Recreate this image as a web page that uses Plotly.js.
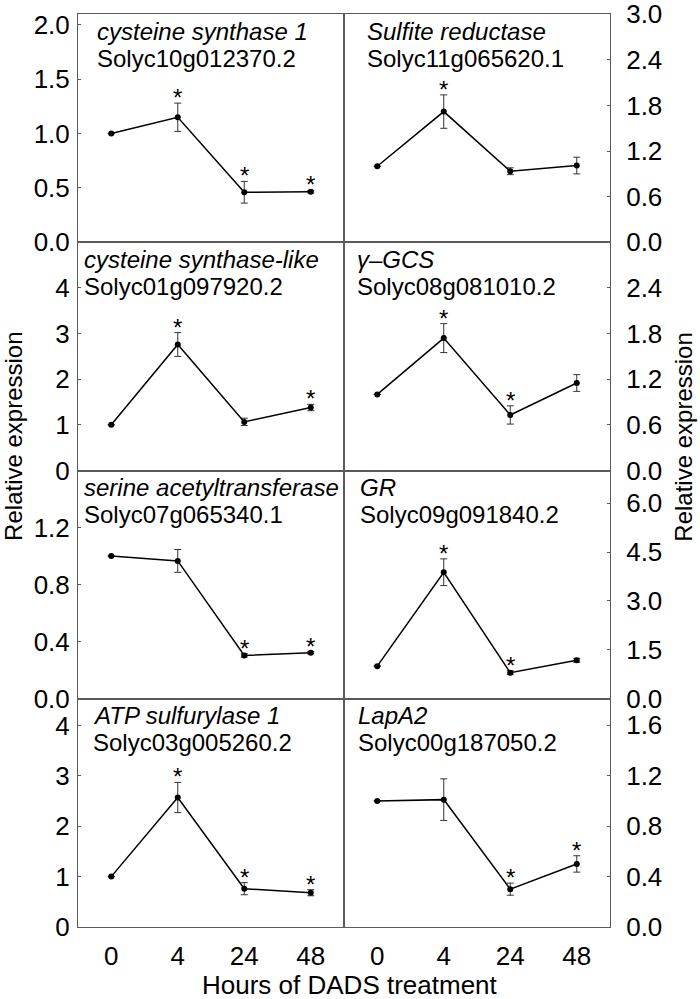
<!DOCTYPE html>
<html>
<head>
<meta charset="utf-8">
<script src="https://cdn.plot.ly/plotly-3.0.1.min.js"></script>
<style>
  html, body { margin: 0; padding: 0; background: #fff; }
  #chart { width: 700px; height: 999px; }
</style>
</head>
<body>
<div id="chart"></div>
<script>
// hours of DADS treatment
const hours = ['0', '4', '24', '48'];

// cysteine synthase 1
const cs1Mean = [1.0, 1.15, 0.46, 0.465];
const cs1Err = [null, 0.13, 0.10, 0.012];
const cs1Sig = [false, true, true, true];

// Sulfite reductase
const sirMean = [1.0, 1.72, 0.935, 1.01];
const sirErr = [null, 0.22, 0.045, 0.11];
const sirSig = [false, true, false, false];

// cysteine synthase-like
const cslMean = [1.0, 2.76, 1.065, 1.38];
const cslErr = [null, 0.26, 0.08, 0.07];
const cslSig = [false, true, false, true];

// gamma-GCS
const gcsMean = [1.0, 1.74, 0.73, 1.15];
const gcsErr = [null, 0.19, 0.12, 0.11];
const gcsSig = [false, true, true, false];

// serine acetyltransferase
const satMean = [1.0, 0.966, 0.304, 0.323];
const satErr = [null, 0.08, 0.012, 0.008];
const satSig = [false, false, true, true];

// GR
const grMean = [1.0, 3.88, 0.80, 1.18];
const grErr = [null, 0.41, 0.06, 0.06];
const grSig = [false, true, true, false];

// ATP sulfurylase 1
const atpMean = [1.0, 2.57, 0.76, 0.68];
const atpErr = [null, 0.30, 0.12, 0.06];
const atpSig = [false, true, true, true];

// LapA2
const lapMean = [1.0, 1.01, 0.30, 0.50];
const lapErr = [null, 0.165, 0.048, 0.065];
const lapSig = [false, false, true, true];

const geneNames = ['cysteine synthase 1', 'Sulfite reductase', 'cysteine synthase-like', 'γ–GCS',
                   'serine acetyltransferase', 'GR', 'ATP sulfurylase 1', 'LapA2'];
const geneIds = ['Solyc10g012370.2', 'Solyc11g065620.1', 'Solyc01g097920.2', 'Solyc08g081010.2',
                 'Solyc07g065340.1', 'Solyc09g091840.2', 'Solyc03g005260.2', 'Solyc00g187050.2'];

const yTop = [2.1, 3.005, 5.0, 3.0, 1.6, 7.0, 4.53, 1.81];
const yTicks = [
  [0, 0.5, 1, 1.5, 2], [0, 0.6, 1.2, 1.8, 2.4, 3.0],
  [0, 1, 2, 3, 4], [0, 0.6, 1.2, 1.8, 2.4],
  [0, 0.4, 0.8, 1.2], [0, 1.5, 3, 4.5, 6],
  [0, 1, 2, 3, 4], [0, 0.4, 0.8, 1.2, 1.6]
];
const yFmt = ['.1f', '.1f', 'd', '.1f', '.1f', '.1f', 'd', '.1f'];

const means = [cs1Mean, sirMean, cslMean, gcsMean, satMean, grMean, atpMean, lapMean];
const errs = [cs1Err, sirErr, cslErr, gcsErr, satErr, grErr, atpErr, lapErr];
const sigs = [cs1Sig, sirSig, cslSig, gcsSig, satSig, grSig, atpSig, lapSig];

// label offsets inside each panel, px from left edge
const labelX = [17, 21, 4, 11, 4, 14, 13, 12];

const FONT = 'Liberation Sans, Arial, sans-serif';
const frameColor = '#5a5a5a';
const rowDomains = [[0.75, 1], [0.5, 0.75], [0.25, 0.5], [0, 0.25]];
const panelW = 266, panelH = 228;

var data = [];
var layout = {
  width: 700,
  height: 999,
  margin: {l: 78, r: 90, t: 14, b: 72},
  paper_bgcolor: '#fff',
  plot_bgcolor: '#fff',
  showlegend: false,
  font: {family: FONT, color: '#000', size: 24},
  annotations: []
};

for (let p = 0; p < 8; p++) {
  const n = p + 1;
  const sfx = n === 1 ? '' : String(n);
  const right = p % 2 === 1;
  const row = Math.floor(p / 2);

  data.push({
    x: hours,
    y: means[p],
    xaxis: 'x' + sfx,
    yaxis: 'y' + sfx,
    type: 'scatter',
    mode: 'lines+markers',
    line: {color: '#000', width: 1.5},
    marker: {color: '#000', size: 6},
    error_y: {type: 'data', array: errs[p], visible: true, color: '#333', thickness: 1, width: 3.5},
    cliponaxis: false
  });

  layout['xaxis' + sfx] = {
    domain: right ? [0.5, 1] : [0, 0.5],
    anchor: 'y' + sfx,
    type: 'category',
    range: [-0.5, 3.5],
    showgrid: false,
    zeroline: false,
    showline: true,
    mirror: true,
    linecolor: frameColor,
    linewidth: 1,
    ticks: '',
    showticklabels: row === 3,
    ticklabelstandoff: 6,
    tickfont: {size: 26}
  };
  layout['yaxis' + sfx] = {
    domain: rowDomains[row],
    anchor: 'x' + sfx,
    side: right ? 'right' : 'left',
    range: [0, yTop[p]],
    tickmode: 'array',
    tickvals: yTicks[p],
    tickformat: yFmt[p],
    showgrid: false,
    zeroline: false,
    showline: true,
    mirror: true,
    linecolor: frameColor,
    linewidth: 1,
    ticks: 'inside',
    ticklen: 3,
    tickcolor: frameColor,
    ticklabelstandoff: right ? 10 : 2,
    ticklabeloverflow: 'allow',
    tickfont: {size: 26}
  };

  // gene name and id
  layout.annotations.push({
    xref: 'x' + sfx + ' domain', yref: 'y' + sfx + ' domain',
    x: labelX[p] / panelW, y: 1 - 17 / panelH,
    xanchor: 'left', yanchor: 'middle', showarrow: false,
    text: '<i>' + geneNames[p] + '</i>', font: {size: 24}
  });
  layout.annotations.push({
    xref: 'x' + sfx + ' domain', yref: 'y' + sfx + ' domain',
    x: labelX[p] / panelW, y: 1 - 44 / panelH,
    xanchor: 'left', yanchor: 'middle', showarrow: false,
    text: geneIds[p], font: {size: 24}
  });

  // significance stars (category axes take the category index)
  hours.forEach((h, i) => {
    if (!sigs[p][i]) return;
    layout.annotations.push({
      xref: 'x' + sfx, yref: 'y' + sfx,
      x: i, y: means[p][i] + (errs[p][i] || 0),
      xanchor: 'center', yanchor: 'bottom', yshift: -10,
      showarrow: false, text: '*', font: {size: 24}
    });
  });
}

// shared titles
layout.annotations.push({
  xref: 'paper', yref: 'paper', x: 0.512, y: -0.0635,
  xanchor: 'center', yanchor: 'middle', showarrow: false,
  text: 'Hours of DADS treatment', font: {size: 26}
});
layout.annotations.push({
  xref: 'paper', yref: 'paper', x: -0.12, y: 0.537,
  xanchor: 'center', yanchor: 'middle', showarrow: false, textangle: -90,
  text: 'Relative expression', font: {size: 24}
});
layout.annotations.push({
  xref: 'paper', yref: 'paper', x: 1.139, y: 0.537,
  xanchor: 'center', yanchor: 'middle', showarrow: false, textangle: -90,
  text: 'Relative expression', font: {size: 24}
});

Plotly.newPlot('chart', data, layout, {displayModeBar: false, staticPlot: true});
</script>
</body>
</html>
